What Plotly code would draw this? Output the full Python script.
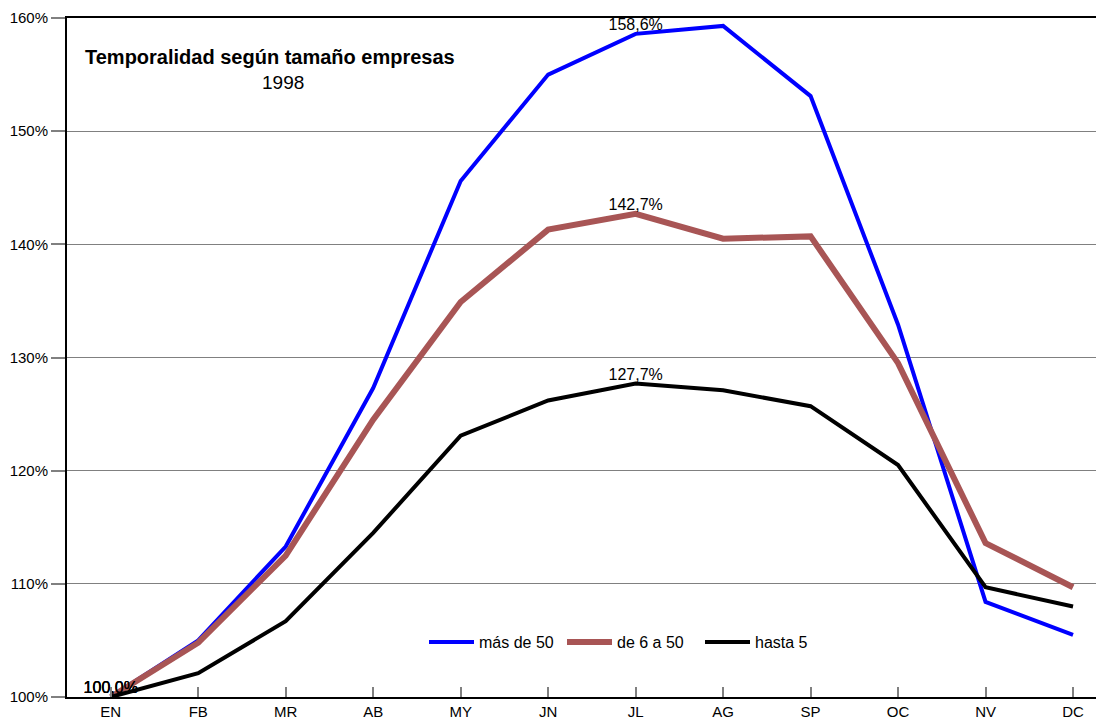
import plotly.graph_objects as go

months = ["EN", "FB", "MR", "AB", "MY", "JN", "JL", "AG", "SP", "OC", "NV", "DC"]
mas_de_50 = [100.0, 105.0, 113.3, 127.3, 145.6, 155.0, 158.6, 159.3, 153.1, 132.9, 108.4, 105.5]
de_6_a_50 = [100.0, 104.8, 112.5, 124.5, 134.9, 141.3, 142.7, 140.5, 140.7, 129.5, 113.6, 109.7]
hasta_5 = [100.0, 102.1, 106.7, 114.5, 123.1, 126.2, 127.7, 127.1, 125.7, 120.5, 109.7, 108.0]
labelled = ["EN", "JL"]
y_ticks = [100, 110, 120, 130, 140, 150, 160]

series = [
    ("más de 50", mas_de_50, "#0000FF", 4),
    ("de 6 a 50", de_6_a_50, "#A85555", 6),
    ("hasta 5", hasta_5, "#000000", 4),
]


def fmt(v):
    return f"{v:.1f}%".replace(".", ",")


# page has an 8px body margin; the figure is sized so the plot lands where the reference has it
W, H = 1096, 714
L, T, B = 59, 10, 25
PW, PH = W - L, H - T - B


def px_x(page_x):
    return (page_x - 8 - L) / PW


def px_y(page_y):
    return (H - B - (page_y - 8)) / PH


fig = go.Figure()
for name, vals, color, w in series:
    texts = [fmt(v) if m in labelled else "" for m, v in zip(months, vals)]
    fig.add_trace(go.Scatter(
        x=months, y=vals, name=name, mode="lines+text",
        line=dict(color=color, width=w),
        text=texts, textposition="top center",
        textfont=dict(family="Liberation Sans, Arial", size=16, color="#000000"),
        cliponaxis=False,
    ))

fig.update_layout(
    width=W, height=H,
    margin=dict(l=L, r=0, t=T, b=B, autoexpand=False),
    paper_bgcolor="white", plot_bgcolor="white",
    font=dict(family="Liberation Sans, Arial", color="#000000"),
    showlegend=True,
    legend=dict(orientation="h", x=px_x(424), y=px_y(642), xanchor="left", yanchor="middle",
                font=dict(size=16), bgcolor="rgba(0,0,0,0)", itemwidth=45, entrywidth=78),
    xaxis=dict(type="category", categoryorder="array", categoryarray=months,
               range=[-0.5, 11.354], showline=True, linecolor="#000000", linewidth=2,
               mirror=True, ticks="inside", ticklen=10, tickcolor="#808080", tickwidth=2,
               showgrid=False, tickfont=dict(size=15), automargin=False),
    yaxis=dict(range=[100, 160], tickvals=y_ticks, ticktext=[f"{t}%" for t in y_ticks],
               showline=True, linecolor="#000000", linewidth=2,
               ticks="outside", ticklen=14, tickcolor="#808080", tickwidth=2,
               showgrid=True, gridcolor="#808080", gridwidth=1,
               tickfont=dict(size=15), zeroline=False, automargin=False),
    annotations=[
        dict(text="<b>Temporalidad según tamaño empresas</b>", xref="paper", yref="paper",
             x=px_x(83), y=px_y(57), xanchor="left", yanchor="middle",
             showarrow=False, font=dict(size=20)),
        dict(text="1998", xref="paper", yref="paper",
             x=px_x(283), y=px_y(82), xanchor="center", yanchor="middle",
             showarrow=False, font=dict(size=19)),
    ],
)

fig.write_html("out.html")
